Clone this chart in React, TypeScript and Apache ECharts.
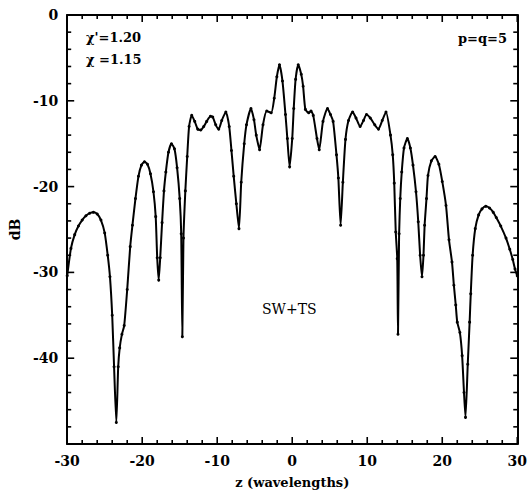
import React, { useEffect, useRef } from "react";
import * as echarts from "echarts";

const zValues: number[] = [
  -30.0, -29.5, -29.0, -28.5, -28.0, -27.5, -27.0, -26.5, -26.0, -25.5,
  -25.0, -24.6, -24.3, -24.0, -23.75, -23.45, -23.2, -23.0, -22.7, -22.4,
  -22.0, -21.6, -21.3, -20.9, -20.5, -20.1, -19.7, -19.3, -18.9, -18.5,
  -18.2, -18.0, -17.8, -17.6, -17.35, -17.1, -16.85, -16.5, -16.1, -15.7,
  -15.35, -15.0, -14.8, -14.65, -14.5, -14.25, -14.0, -13.75, -13.4, -13.0,
  -12.6, -12.2, -11.8, -11.4, -10.9, -10.6, -10.2, -9.8, -9.4, -8.85,
  -8.4, -8.1, -7.8, -7.45, -7.1, -6.8, -6.4, -6.1, -5.5, -5.1,
  -4.8, -4.35, -3.9, -3.4, -2.8, -2.4, -2.05, -1.7, -1.3, -0.9,
  -0.65, -0.35, 0.0, 0.2, 0.45, 0.8, 1.2, 1.45, 1.75, 2.2,
  2.5, 2.8, 3.3, 3.6, 4.1, 4.7, 5.1, 5.45, 5.9, 6.15,
  6.45, 6.75, 7.1, 7.5, 8.05, 8.5, 9.05, 9.5, 9.9, 10.4,
  11.0, 11.5, 12.0, 12.5, 13.1, 13.4, 13.6, 13.8, 14.0, 14.1,
  14.25, 14.4, 14.6, 14.9, 15.35, 15.75, 16.1, 16.5, 16.8, 17.05,
  17.3, 17.5, 17.65, 17.9, 18.1, 18.55, 19.05, 19.55, 20.0, 20.5,
  20.9, 21.3, 21.55, 21.8, 22.0, 22.35, 22.65, 22.9, 23.1, 23.4,
  23.65, 23.8, 24.05, 24.4, 24.85, 25.3, 25.8, 26.3, 26.8, 27.2,
  27.8, 28.5, 29.0, 29.4, 29.7, 30.0,
];

const dBValues: number[] = [
  -30.4, -27.2, -25.6, -24.6, -23.9, -23.4, -23.1, -23.0, -23.2, -23.9,
  -25.4, -28.0, -30.5, -35.0, -41.0, -47.5, -41.0, -38.8, -37.2, -36.2,
  -32.0, -27.0, -24.5, -21.4, -18.8, -17.5, -17.1, -17.4, -18.5, -20.6,
  -23.5, -28.3, -30.9, -28.3, -24.2, -20.5, -18.3, -16.0, -15.0, -15.6,
  -17.8, -21.4, -25.5, -37.5, -26.0, -20.5, -16.5, -13.0, -11.7, -12.4,
  -13.3, -13.4, -13.0, -12.4, -11.8, -11.9, -12.8, -13.3, -12.3, -11.3,
  -13.0, -15.8, -18.8, -22.0, -24.9, -19.5, -15.0, -12.8, -10.9, -12.2,
  -14.0, -15.7, -12.8, -11.2, -11.4, -9.7, -7.2, -5.8, -7.7, -11.6,
  -14.4, -17.7, -14.4, -10.9, -7.5, -5.8, -6.9, -8.3, -11.0, -11.4,
  -11.2, -11.7, -14.4, -15.7, -12.4, -10.9, -11.6, -12.4, -16.3, -19.0,
  -24.5, -19.5, -14.5, -12.3, -11.3, -12.0, -13.0, -12.3, -11.6, -12.0,
  -12.8, -13.3, -12.3, -11.3, -14.0, -16.3, -19.6, -25.3, -28.4, -37.2,
  -25.5, -21.4, -18.3, -15.5, -14.4, -15.5, -17.5, -20.6, -24.1, -28.0,
  -30.5, -28.0, -24.5, -21.4, -18.7, -17.0, -16.5, -17.4, -19.4, -22.2,
  -26.2, -28.8, -31.5, -33.8, -35.8, -37.0, -39.7, -44.0, -46.9, -40.7,
  -35.8, -32.5, -28.0, -24.9, -23.3, -22.6, -22.3, -22.5, -23.0, -23.6,
  -24.6, -26.0, -27.3, -28.5, -29.6, -30.4,
];

const xTickLabels = { min: -30, max: 30, interval: 10 };
const yTickLabels = { min: -50, max: 0, interval: 10 };

// tick marks drawn inside all four sides of the frame
const xMajorTicks: number[] = [-30, -20, -10, 0, 10, 20, 30];
const xMinorTicks: number[] = [
  -28, -26, -24, -22, -18, -16, -14, -12, -8, -6, -4, -2,
  2, 4, 6, 8, 12, 14, 16, 18, 22, 24, 26, 28,
];
const yMajorTicks: number[] = [-50, -40, -30, -20, -10, 0];
const yMinorTicks: number[] = [
  -48, -46, -44, -42, -38, -36, -34, -32, -28, -26, -24, -22,
  -18, -16, -14, -12, -8, -6, -4, -2,
];

const annotations: { text: string; x: number; y: number; bold: boolean }[] = [
  { text: "χ'=1.20", x: 86, y: 39, bold: true },
  { text: "χ =1.15", x: 86, y: 61, bold: true },
  { text: "p=q=5", x: 458, y: 40, bold: true },
  { text: "SW+TS", x: 262, y: 310, bold: false },
];

const FONT = "DejaVu Serif";
const GRID = { left: 64, right: 6, top: 15, bottom: 49 };
const CHART_W = 530;
const CHART_H = 494;

function axisLine() {
  return { show: true, onZero: false, lineStyle: { color: "#000", width: 2 } };
}
function label() {
  return {
    color: "#000",
    fontFamily: FONT,
    fontWeight: "bold" as const,
    fontSize: 14,
  };
}

// ticks drawn as thin rectangular symbols anchored on the frame
function tickMarks(points: number[][], size: number[], offset: number[]) {
  return {
    type: "scatter",
    xAxisIndex: 0,
    yAxisIndex: 0,
    clip: false,
    silent: true,
    z: 6,
    symbol: "rect",
    symbolSize: size,
    symbolOffset: offset,
    itemStyle: { color: "#000", opacity: 1 },
    emphasis: { disabled: true },
    data: points,
  };
}

export default function App() {
  const ref = useRef<HTMLDivElement>(null);
  useEffect(() => {
    if (!ref.current) return;
    const chart = echarts.init(ref.current, null, { renderer: "svg" });

    const W = 1.6;
    const MAJ = 7;
    const MIN = 4;

    const tickSeries = [
      tickMarks(xMajorTicks.map((v) => [v, yTickLabels.min]), [W, MAJ], [0, -MAJ / 2]),
      tickMarks(xMajorTicks.map((v) => [v, yTickLabels.max]), [W, MAJ], [0, MAJ / 2]),
      tickMarks(xMinorTicks.map((v) => [v, yTickLabels.min]), [W, MIN], [0, -MIN / 2]),
      tickMarks(xMinorTicks.map((v) => [v, yTickLabels.max]), [W, MIN], [0, MIN / 2]),
      tickMarks(yMajorTicks.map((v) => [xTickLabels.min, v]), [MAJ, W], [MAJ / 2, 0]),
      tickMarks(yMajorTicks.map((v) => [xTickLabels.max, v]), [MAJ, W], [-MAJ / 2, 0]),
      tickMarks(yMinorTicks.map((v) => [xTickLabels.min, v]), [MIN, W], [MIN / 2, 0]),
      tickMarks(yMinorTicks.map((v) => [xTickLabels.max, v]), [MIN, W], [-MIN / 2, 0]),
    ];

    chart.setOption({
      animation: false,
      backgroundColor: "#fff",
      grid: { ...GRID, containLabel: false },
      xAxis: [
        {
          type: "value",
          min: xTickLabels.min,
          max: xTickLabels.max,
          interval: xTickLabels.interval,
          position: "bottom",
          axisLine: axisLine(),
          axisTick: { show: false },
          splitLine: { show: false },
          axisLabel: { ...label(), margin: 10 },
          name: "z (wavelengths)",
          nameLocation: "middle",
          nameGap: 32,
          nameTextStyle: { ...label(), fontSize: 13 },
        },
        {
          type: "value",
          min: xTickLabels.min,
          max: xTickLabels.max,
          interval: xTickLabels.interval,
          position: "top",
          axisLine: axisLine(),
          axisTick: { show: false },
          splitLine: { show: false },
          axisLabel: { show: false },
        },
      ],
      yAxis: [
        {
          type: "value",
          min: yTickLabels.min,
          max: yTickLabels.max,
          interval: yTickLabels.interval,
          position: "left",
          axisLine: axisLine(),
          axisTick: { show: false },
          splitLine: { show: false },
          axisLabel: {
            ...label(),
            margin: 9,
            formatter: (v: number) => (v === yTickLabels.min ? "" : String(v)),
          },
          name: "dB",
          nameLocation: "middle",
          nameGap: 44,
          nameTextStyle: label(),
        },
        {
          type: "value",
          min: yTickLabels.min,
          max: yTickLabels.max,
          interval: yTickLabels.interval,
          position: "right",
          axisLine: axisLine(),
          axisTick: { show: false },
          splitLine: { show: false },
          axisLabel: { show: false },
        },
      ],
      series: [
        ...tickSeries,
        {
          type: "line",
          xAxisIndex: 0,
          yAxisIndex: 0,
          data: zValues.map((z, i) => [z, dBValues[i]]),
          smooth: 0.2,
          symbol: "circle",
          symbolSize: 3,
          showSymbol: true,
          lineStyle: { color: "#000", width: 2 },
          itemStyle: { color: "#000" },
        },
      ],
      graphic: annotations.map((a) => ({
        type: "text",
        left: a.x,
        top: a.y - 8,
        style: {
          text: a.text,
          fill: "#000",
          font: `${a.bold ? "bold " : ""}${a.bold ? 13 : 14}px "${FONT}"`,
        },
      })),
    });

    return () => chart.dispose();
  }, []);
  return (
    <div
      ref={ref}
      style={{ position: "absolute", left: 0, top: 0, width: CHART_W, height: CHART_H }}
    />
  );
}
